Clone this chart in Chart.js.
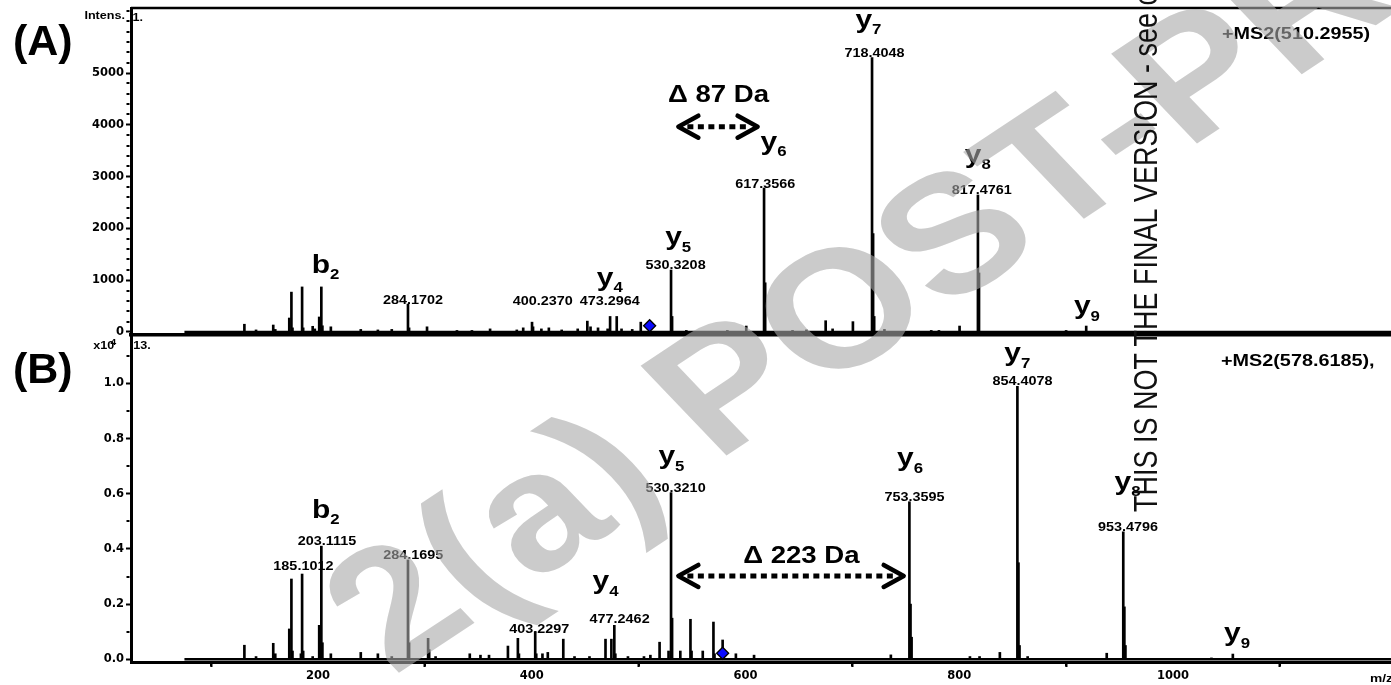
<!DOCTYPE html>
<html>
<head>
<meta charset="utf-8">
<title>MS2 spectra</title>
<script src="https://cdn.jsdelivr.net/npm/chart.js@4.4.1/dist/chart.umd.min.js"></script>
<style>
 html,body{margin:0;padding:0;background:#ffffff;}
 #page{position:relative;width:1391px;height:685px;overflow:hidden;background:#fff;}
 canvas{position:absolute;left:0;}
 #cA{top:0;}
 #cB{top:320px;}
 .wm{position:absolute;left:0;top:0;white-space:nowrap;transform-origin:0 0;pointer-events:none;font-family:"Liberation Sans",Arial,sans-serif;}
 #wmBig{font-size:167px;line-height:167px;height:167px;font-weight:bold;color:rgba(168,168,168,0.6);}
 #wmV{font-size:27px;line-height:27px;height:27px;color:#111;}
</style>
</head>
<body>
<div id="page">
<canvas id="cA" width="1391" height="337"></canvas>
<canvas id="cB" width="1391" height="365"></canvas>
<div id="wmBig" class="wm">2(a) POST-PR</div>
<div id="wmV" class="wm">THIS IS NOT THE FINAL VERSION - see c</div>
</div>
<script>
// ---------------- DATA ----------------
// Panel A: +MS2(510.2955)  (intensity, counts)
const peaksA_mz = [
  131.1, 142, 158.1, 160, 173.1, 175.1, 176.1, 185.1, 186.1, 195,
  197, 201.1, 203.1, 204.1, 212, 240, 256, 269, 284.17, 285.2,
  302, 330, 344, 361, 386, 392, 400.24, 401.2, 409, 416,
  428, 443, 452, 455, 462, 471, 473.3, 479.5, 484, 494,
  502, 510.3, 530.32, 531.3, 544.6, 583, 600.7, 617.36, 618.4, 644,
  657, 675, 681.5, 700.5, 718.4, 719.4, 720.4, 730, 773.8, 781,
  800.3, 817.48, 818.5, 900, 918.8];
const peaksA_int = [
  150, 40, 135, 50, 270, 770, 80, 870, 80, 110,
  60, 290, 870, 120, 100, 50, 40, 50, 540, 80,
  100, 30, 30, 60, 40, 80, 190, 100, 60, 80,
  40, 60, 210, 100, 80, 60, 300, 300, 60, 50,
  190, 40, 1197, 300, 30, 30, 115, 2780, 950, 30,
  40, 218, 60, 200, 5300, 1900, 300, 50, 30, 30,
  115, 2645, 1140, 30, 115];
const precursorA_mz = [510.2955];
const precursorA_int = [120];
const baselineA_mz = [75, 1204];

const numA_text = ['284.1702', '400.2370', '473.2964', '530.3208', '617.3566', '718.4048', '817.4761'];
const numA_mz   = [288.8, 410.2, 472.9, 534.6, 618.5, 720.7, 821.1];
const numA_int  = [540, 521, 521, 1210, 2774, 5303, 2658];

const ionA_name = ['b', 'y', 'y', 'y', 'y', 'y', 'y'];
const ionA_sub  = ['2', '4', '5', '6', '7', '8', '9'];
const ionA_mz   = [207, 473, 537, 626.3, 715, 817.4, 919.5];
const ionA_int  = [1139, 888, 1670, 3523, 5873, 3266, 338];

const deltaA_text = 'Δ 87 Da';
const deltaA_pos = [574.8, 4440];
const arrowA_mz = [535.3, 613.2];
const arrowA_int = 3963;

// Panel B: +MS2(578.6185)  (intensity, x10^4)
const peaksB_mz = [
  131.1, 142, 158.1, 160, 173.1, 175.1, 176.1, 184, 185.1, 186.1,
  195, 201.1, 203.11, 204.1, 212, 240, 256, 269, 284.17, 285.2,
  303, 304, 310, 342, 352, 360, 377.7, 387, 388, 403.23,
  404.2, 410, 415, 429.5, 440, 454, 469, 474.5, 477.25, 478.2,
  490, 505, 511, 519.6, 528, 530.32, 531.3, 539, 548.5, 549.5,
  560, 570, 571, 578.6, 591, 608, 736, 753.36, 754.4, 755.4,
  810, 819, 838, 854.41, 855.4, 856.4, 864, 938, 953.48, 954.5,
  955.5, 1036, 1056];
const peaksB_int = [
  0.051, 0.01, 0.058, 0.02, 0.11, 0.291, 0.03, 0.02, 0.309, 0.03,
  0.01, 0.123, 0.41, 0.06, 0.02, 0.025, 0.02, 0.01, 0.36, 0.06,
  0.076, 0.035, 0.01, 0.02, 0.015, 0.015, 0.048, 0.076, 0.02, 0.1,
  0.02, 0.02, 0.025, 0.073, 0.01, 0.01, 0.073, 0.073, 0.123, 0.02,
  0.01, 0.01, 0.015, 0.062, 0.03, 0.604, 0.149, 0.03, 0.145, 0.03,
  0.03, 0.135, 0.02, 0.07, 0.02, 0.015, 0.016, 0.571, 0.2, 0.08,
  0.01, 0.01, 0.025, 0.989, 0.35, 0.05, 0.01, 0.022, 0.462, 0.19,
  0.05, 0.005, 0.019];
const precursorB_mz = [578.6185];
const precursorB_int = [0.022];
const baselineB_mz = [75, 1204];

const numB_text = ['185.1012', '203.1115', '284.1695', '403.2297', '477.2462', '530.3210', '753.3595', '854.4078', '953.4796'];
const numB_mz   = [186.3, 208.4, 289.2, 407.1, 482.2, 534.6, 758.1, 859.2, 957.9];
const numB_int  = [0.3236, 0.4116, 0.3634, 0.094, 0.128, 0.6036, 0.5736, 0.9938, 0.4623];

const ionB_name = ['b', 'y', 'y', 'y', 'y', 'y', 'y'];
const ionB_sub  = ['2', '4', '5', '6', '7', '8', '9'];
const ionB_mz   = [207.2, 469, 530.7, 754, 854.3, 957.4, 1059.9];
const ionB_int  = [0.513, 0.253, 0.706, 0.6996, 1.080, 0.615, 0.0656];

const deltaB_text = 'Δ 223 Da';
const deltaB_pos = [652.3, 0.348];
const arrowB_mz = [535.3, 749.9];
const arrowB_int = 0.302;

// axes
const xMajorTicks = [200, 400, 600, 800, 1000];
const xMinorTicks = [100, 300, 500, 700, 900, 1100];
const yMajorTicksA = [0, 1000, 2000, 3000, 4000, 5000];
const yMinorStepA = 200;
const yMajorTicksB = [0, 0.2, 0.4, 0.6, 0.8, 1.0];
const yMinorStepB = 0.1;

// ---------------- DRAWING ----------------
const FONT = '"Liberation Sans", Arial, sans-serif';
const TICKFAMILY = '"DejaVu Sans", sans-serif';
const SX = 1.2;        // horizontal stretch of the original figure text
const X_MIN = 25, X_MAX = 1204;

function txt(ctx, s, x, y, size, align, sx, weight) {
  ctx.save();
  ctx.translate(x, y);
  ctx.scale(sx, 1);
  ctx.font = (weight || 'bold') + ' ' + size + 'px ' + FONT;
  ctx.textAlign = align;
  ctx.textBaseline = 'alphabetic';
  ctx.fillStyle = '#000';
  ctx.fillText(s, 0, 0);
  ctx.restore();
}
function ionLabel(ctx, main, sub, cx, by) {
  ctx.save();
  ctx.font = 'bold 25px ' + FONT; const w1 = ctx.measureText(main).width;
  ctx.font = 'bold 14px ' + FONT; const w2 = ctx.measureText(sub).width;
  ctx.restore();
  const left = cx - (w1 + w2) * SX / 2;
  txt(ctx, main, left, by, 25, 'left', SX);
  txt(ctx, sub, left + w1 * SX, by + 6.5, 14, 'left', SX);
}
function dblArrow(ctx, x1, x2, y) {
  ctx.save();
  ctx.strokeStyle = '#000';
  ctx.lineWidth = 4.5; ctx.lineCap = 'round'; ctx.lineJoin = 'round';
  const ax = 20, ay = 11;
  x1 += 2; x2 -= 2;
  ctx.beginPath();
  ctx.moveTo(x1 + ax, y - ay); ctx.lineTo(x1, y); ctx.lineTo(x1 + ax, y + ay);
  ctx.moveTo(x2 - ax, y - ay); ctx.lineTo(x2, y); ctx.lineTo(x2 - ax, y + ay);
  ctx.stroke();
  ctx.lineCap = 'butt'; ctx.lineWidth = 5; ctx.setLineDash([6, 4.5]);
  ctx.beginPath(); ctx.moveTo(x1 + 9, y); ctx.lineTo(x2 - 9, y); ctx.stroke();
  ctx.restore();
}

const PANELS = {
  cA: {
    nums: [numA_text, numA_mz, numA_int],
    ions: [ionA_name, ionA_sub, ionA_mz, ionA_int],
    delta: [deltaA_text, deltaA_pos], arrow: [arrowA_mz, arrowA_int],
    yMajor: yMajorTicksA, yMinor: yMinorStepA, xMinor: null, topBorder: true,
    fixed: function (ctx) {
      ctx.save(); ctx.font = 'bold 43px ' + FONT; ctx.fillStyle = '#000'; ctx.textAlign = 'left';
      ctx.fillText('(A)', 13, 54.5); ctx.restore();
      txt(ctx, 'Intens.', 125, 18.5, 10.5, 'right', SX);
      txt(ctx, '1.', 132.5, 20.7, 10.5, 'left', SX);
      txt(ctx, '+MS2(510.2955)', 1222, 39.3, 16.5, 'left', SX);
    }
  },
  cB: {
    nums: [numB_text, numB_mz, numB_int],
    ions: [ionB_name, ionB_sub, ionB_mz, ionB_int],
    delta: [deltaB_text, deltaB_pos], arrow: [arrowB_mz, arrowB_int],
    yMajor: yMajorTicksB, yMinor: yMinorStepB, xMinor: xMinorTicks, topBorder: false,
    fixed: function (ctx) {
      const o = 320;
      ctx.save(); ctx.font = 'bold 43px ' + FONT; ctx.fillStyle = '#000'; ctx.textAlign = 'left';
      ctx.fillText('(B)', 13, 383 - o); ctx.restore();
      txt(ctx, 'x10', 93.3, 349.3 - o, 10.5, 'left', SX);
      txt(ctx, '4', 110.5, 345 - o, 8.5, 'left', SX);
      txt(ctx, '13.', 133.3, 349.3 - o, 10.5, 'left', SX);
      txt(ctx, '+MS2(578.6185),', 1221, 366 - o, 16.5, 'left', SX);
      txt(ctx, 'm/z', 1370, 681.7 - o, 11.5, 'left', SX);
    }
  }
};

const specPlugin = {
  id: 'spec',
  afterDraw(chart) {
    const P = PANELS[chart.canvas.id];
    if (!P) return;
    const ctx = chart.ctx, xs = chart.scales.x, ys = chart.scales.y, ca = chart.chartArea;
    const X = v => xs.getPixelForValue(v), Y = v => ys.getPixelForValue(v);
    ctx.save();
    ctx.strokeStyle = '#000'; ctx.fillStyle = '#000';
    // minor y ticks
    ctx.lineWidth = 2; ctx.beginPath();
    for (let k = Math.ceil(ys.min / P.yMinor); k * P.yMinor <= ys.max + 1e-9; k++) {
      const v = k * P.yMinor;
      if (P.yMajor.some(m => Math.abs(m - v) < 1e-9)) continue;
      const py = Math.round(Y(v));
      ctx.moveTo(ca.left - 1.5, py); ctx.lineTo(ca.left - 4.5, py);
    }
    ctx.stroke();
    // minor x ticks
    if (P.xMinor) {
      ctx.beginPath();
      P.xMinor.forEach(v => { const px = Math.round(X(v)); ctx.moveTo(px, ca.bottom + 1.5); ctx.lineTo(px, ca.bottom + 4.5); });
      ctx.stroke();
    }
    // top frame
    if (P.topBorder) {
      ctx.lineWidth = 2.5; ctx.beginPath();
      ctx.moveTo(ca.left, ca.top); ctx.lineTo(ca.right, ca.top); ctx.stroke();
    }
    ctx.restore();
    // peak m/z labels
    const [nt, nm, ni] = P.nums;
    nt.forEach((t, i) => txt(ctx, t, X(nm[i]), Y(ni[i]) - 0.5, 12, 'center', SX));
    // ion labels
    const [in_, is, im, ii] = P.ions;
    in_.forEach((t, i) => ionLabel(ctx, t, is[i], X(im[i]), Y(ii[i])));
    // delta text and arrow
    txt(ctx, P.delta[0], X(P.delta[1][0]), Y(P.delta[1][1]), 23, 'center', SX);
    dblArrow(ctx, X(P.arrow[0][0]), X(P.arrow[0][1]), Y(P.arrow[1]));
    P.fixed(ctx);
  }
};

function pts(xs, ys) { return xs.map((x, i) => ({ x: x, y: ys[i] })); }

function yAxis(min, max, ticks, fmt) {
  return {
    type: 'linear', position: 'left', min: min, max: max,
    afterBuildTicks: s => { s.ticks = ticks.map(v => ({ value: v })); },
    afterFit: s => { s.width = 131; s.paddingTop = 0; s.paddingBottom = 0; },
    grid: { display: true, drawOnChartArea: false, drawTicks: true, tickLength: 5, tickWidth: 2, tickColor: '#000' },
    border: { display: true, width: 3, color: '#000' },
    ticks: { color: '#000', padding: 2, font: { family: TICKFAMILY, size: 11.5, weight: 'bold' }, callback: fmt }
  };
}

function makeChart(id, peaks, base, prec, yScale, xScale, padTop) {
  return new Chart(document.getElementById(id), {
    type: 'bar',
    data: {
      datasets: [
        { type: 'line', data: prec, showLine: false, pointStyle: 'rectRot', pointRadius: 6, pointHoverRadius: 6,
          pointBackgroundColor: '#0a0aff', pointBorderColor: '#000', pointBorderWidth: 1.3, order: 0, clip: false },
        { type: 'line', data: base, borderColor: '#000', borderWidth: 2.5, pointRadius: 0, order: 1 },
        { type: 'bar', data: peaks, backgroundColor: '#000', barThickness: 2, order: 2 }
      ]
    },
    options: {
      responsive: false, animation: false, events: [],
      layout: { autoPadding: false, padding: { top: padTop, left: 0, right: 0, bottom: 0 } },
      plugins: { legend: { display: false }, tooltip: { enabled: false } },
      scales: { x: xScale, y: yScale }
    },
    plugins: [specPlugin]
  });
}

// Panel A
makeChart('cA',
  pts(peaksA_mz, peaksA_int),
  baselineA_mz.map(x => ({ x: x, y: 0 })),
  pts(precursorA_mz, precursorA_int),
  yAxis(-58, 6255, yMajorTicksA, v => String(v)),
  { type: 'linear', min: X_MIN, max: X_MAX, offset: false,
    afterFit: s => { s.height = 2; s.paddingLeft = 0; s.paddingRight = 0; },
    grid: { display: false }, border: { display: true, width: 3.5, color: '#000' }, ticks: { display: false } },
  8);

// Panel B
makeChart('cB',
  pts(peaksB_mz, peaksB_int),
  baselineB_mz.map(x => ({ x: x, y: 0 })),
  pts(precursorB_mz, precursorB_int),
  yAxis(-0.0098, 1.168, yMajorTicksB, v => v.toFixed(1)),
  { type: 'linear', min: X_MIN, max: X_MAX, offset: false,
    afterBuildTicks: s => { s.ticks = xMajorTicks.map(v => ({ value: v })); },
    afterFit: s => { s.height = 23; s.paddingLeft = 0; s.paddingRight = 0; },
    grid: { display: true, drawOnChartArea: false, drawTicks: true, tickLength: 5, tickWidth: 2, tickColor: '#000' },
    border: { display: true, width: 3, color: '#000' },
    ticks: { color: '#000', padding: 2, maxRotation: 0, autoSkip: false, font: { family: TICKFAMILY, size: 11.5, weight: 'bold' }, callback: v => String(v) } },
  17);

// ---------------- WATERMARKS ----------------
(function () {
  const c = document.createElement('canvas').getContext('2d');
  // diagonal gray watermark, anchored on the centre of the "O"
  const big = document.getElementById('wmBig');
  const F = 167, ANG = 38.5, AX = 837, AY = 306;
  c.font = 'bold ' + F + 'px ' + FONT;
  const s = big.textContent, idx = s.indexOf('O');
  const xo = c.measureText(s.slice(0, idx)).width + c.measureText('O').width / 2;
  const yo = 0.8465 * F - 0.36 * F;
  big.style.transform = 'scaleX(' + SX + ') translate(' + (AX / SX) + 'px,' + AY + 'px) rotate(' + (-ANG) + 'deg) translate(' + (-xo) + 'px,' + (-yo) + 'px)';
  // vertical notice
  const v = document.getElementById('wmV');
  const FV = 27, BX = 1158, BY = 512;
  v.style.transform = 'scaleX(' + SX + ') translate(' + (BX / SX) + 'px,' + BY + 'px) rotate(-90deg) translate(0px,' + (-0.8465 * FV) + 'px)';
})();
</script>
</body>
</html>
